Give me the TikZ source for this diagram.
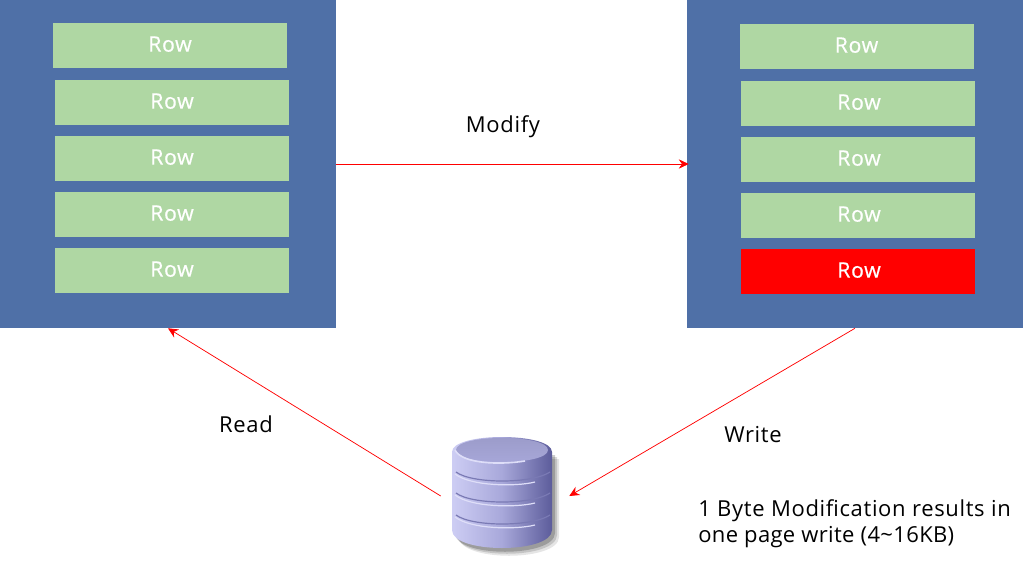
\documentclass[tikz,border=0pt]{standalone}
\usepackage{fontspec}
\setmainfont[LetterSpace=3]{Open Sans}
\newfontfamily\rowfont[LetterSpace=3,FakeBold=0.5]{Open Sans}
\usetikzlibrary{arrows.meta}
\definecolor{panelblue}{RGB}{79,112,167}
\definecolor{rowgreen}{RGB}{175,215,163}
\definecolor{dbA}{RGB}{205,205,244}
\definecolor{dbB}{RGB}{168,168,218}
\definecolor{dbC}{RGB}{92,92,155}
\definecolor{dbEdge}{RGB}{122,122,180}
\definecolor{dbLight}{RGB}{222,222,248}
\tikzset{
  panel/.style={fill=panelblue,draw=none,inner sep=0pt,minimum width=252pt,minimum height=246pt},
  rowbox/.style={fill=rowgreen,draw=none,inner sep=0pt,minimum width=175.5pt,minimum height=33.75pt,text=white,font=\rowfont\fontsize{16}{19}\selectfont},
  hotrow/.style={rowbox,fill=red},
  lbl/.style={inner sep=0pt,text=black,font=\fontsize{16.5}{20}\selectfont},
  note/.style={lbl,align=left,anchor=north west},
  link/.style={draw=red,line width=0.55pt,-{Stealth[length=7.5pt,width=7pt]}},
  dbspot/.style={inner sep=0pt,minimum width=96pt,minimum height=90pt}
}
\newcommand{\rowtext}{\raisebox{2.2pt}{Row}}
\newcommand{\rowtextr}{\hspace*{1.5pt}\raisebox{2.2pt}{Row}}
\begin{document}
\begin{tikzpicture}[x=0.75pt,y=-0.75pt]
\useasboundingbox[fill=white] (0,0) rectangle (1025,586);
\node[panel] (pl) at (168,164) {};
\node[panel] (pr) at (855,164) {};
\node[rowbox] (l1) at (170,45.5) {\rowtext};
\node[rowbox] (l2) at (172,102.5) {\rowtext};
\node[rowbox] (l3) at (172,158.5) {\rowtext};
\node[rowbox] (l4) at (172,214.5) {\rowtext};
\node[rowbox] (l5) at (172,270.5) {\rowtext};
\node[rowbox] (r1) at (856.5,46.5) {\rowtext};
\node[rowbox] (r2) at (858,103.5) {\rowtextr};
\node[rowbox] (r3) at (858,159.5) {\rowtextr};
\node[rowbox] (r4) at (858,215.5) {\rowtextr};
\node[hotrow] (r5) at (858,271.5) {\rowtextr};
\node[dbspot] (db) at (505,496) {};
% database cylinder
\foreach \o/\s in {0.10/7,0.14/5,0.2/3}{
  \fill[black,opacity=\o] (452+\s,452+\s) -- (552+\s,452+\s) -- (552+\s,530+\s)
    .. controls (552+\s,555+\s) and (452+\s,555+\s) .. (452+\s,530+\s) -- cycle;
}
\shade[left color=dbA,right color=dbC,middle color=dbB]
  (452,452) .. controls (452,432) and (552,432) .. (552,452) -- (552,530)
  .. controls (552,554) and (452,554) .. (452,530) -- cycle;
\shade[top color=dbB!92!black,bottom color=dbB]
  (456,450) .. controls (456,434) and (548,434) .. (548,450)
  .. controls (548,466) and (456,466) .. (456,450) -- cycle;
\draw[dbLight,line width=1.2pt] (455,450) .. controls (462,464) and (500,465) .. (525,461);
\foreach \g in {0,21,43}{
  \draw[dbEdge,line width=0.9pt] (456,472+\g) .. controls (472,484+\g) and (532,484+\g) .. (550,472+\g);
  \draw[dbLight,line width=0.9pt] (455,474+\g) .. controls (470,486+\g) and (515,487+\g) .. (535,482+\g);
}
\draw[link] (pl.east) -- ([xshift=1.5pt]pr.west);
\draw[link] (db.west) -- (pl.south);
\draw[link] (pr.south) -- (db.east);
\node[lbl] (mod) at (503,127) {Modify};
\node[lbl] (rd) at (246,424) {Read};
\node[lbl] (wr) at (753,435) {Write};
\node[note] (nt) at (698,499) {1 Byte Modification results in\\\addfontfeature{LetterSpace=1.6}one page write (4\textasciitilde16KB)};
\end{tikzpicture}
\end{document}
